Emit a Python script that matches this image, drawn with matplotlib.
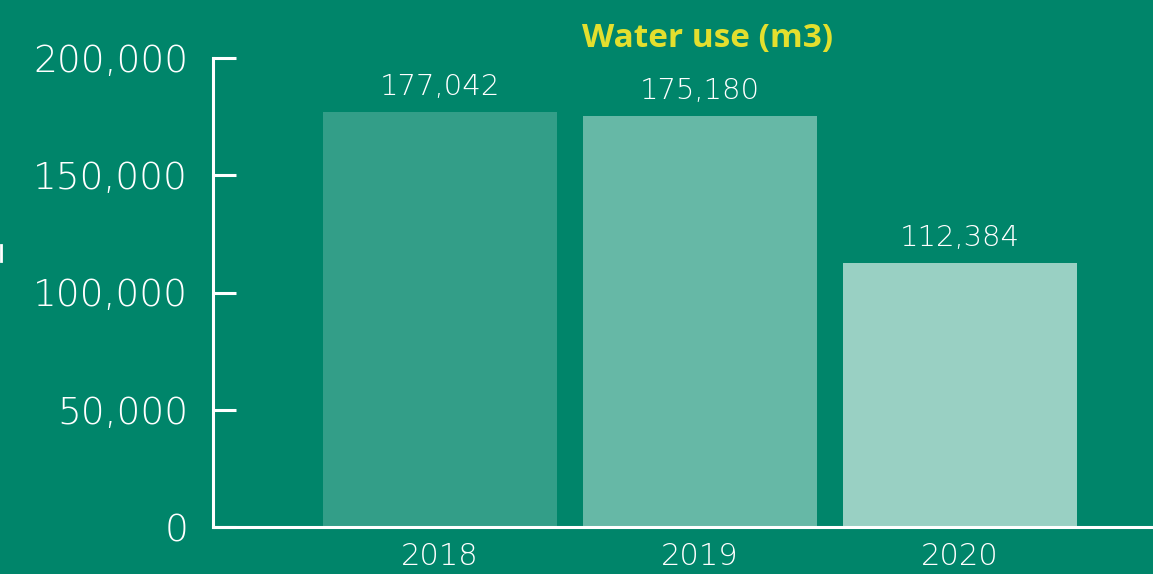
import matplotlib.pyplot as plt
from matplotlib.lines import Line2D

# Water use per year (m3)
years = ["2018", "2019", "2020"]
water_use = [177042, 175180, 112384]
bar_colors = ["#339E88", "#66B8A6", "#99D0C3"]
yticks = [0, 50000, 100000, 150000, 200000]

bg = "#00856A"
plt.rcParams['font.family'] = ['DejaVu Sans']

fig = plt.figure(figsize=(11.53, 5.74), dpi=100, facecolor=bg)
ax = fig.add_axes([213 / 1153, 47 / 574, 940 / 1153, 469 / 574])
ax.set_facecolor(bg)

x = list(range(len(years)))
bars = ax.bar(x, water_use, width=0.9, color=bar_colors, zorder=2)

for rect, v in zip(bars, water_use):
    ax.annotate(f"{v:,}", (rect.get_x() + rect.get_width() / 2, v),
                xytext=(0, 8), textcoords="offset points",
                ha="center", va="bottom", color="white",
                fontsize=21, fontweight="light")

ax.set_xlim(-0.873, 2.742)
ax.set_ylim(0, 200000)
ax.set_xticks(x)
ax.set_xticklabels(years)
ax.set_yticks(yticks)
ax.set_yticklabels([f"{t:,}" for t in yticks])

for side in ["top", "right"]:
    ax.spines[side].set_visible(False)
for side in ["left", "bottom"]:
    ax.spines[side].set_color("white")
    ax.spines[side].set_linewidth(2.2)

ax.tick_params(axis="y", direction="in", length=16.5, width=2.2, color="white",
               labelcolor="white", labelsize=27, pad=18)
ax.tick_params(axis="x", length=0, labelcolor="white", labelsize=22, pad=11)
for lab in ax.get_xticklabels() + ax.get_yticklabels():
    lab.set_fontweight("light")

fig.text(708 / 1153, 1 - 39 / 574, "Water use (m3)", ha="center", va="center",
         color="#E3DF2E", fontsize=24, fontweight="bold", family="Open Sans")

# small mark on the left edge
fig.add_artist(Line2D([0.001, 0.001], [1 - 245 / 574, 1 - 261 / 574],
                      color="white", linewidth=2))

fig.savefig("out.png", dpi=100, facecolor=bg)
